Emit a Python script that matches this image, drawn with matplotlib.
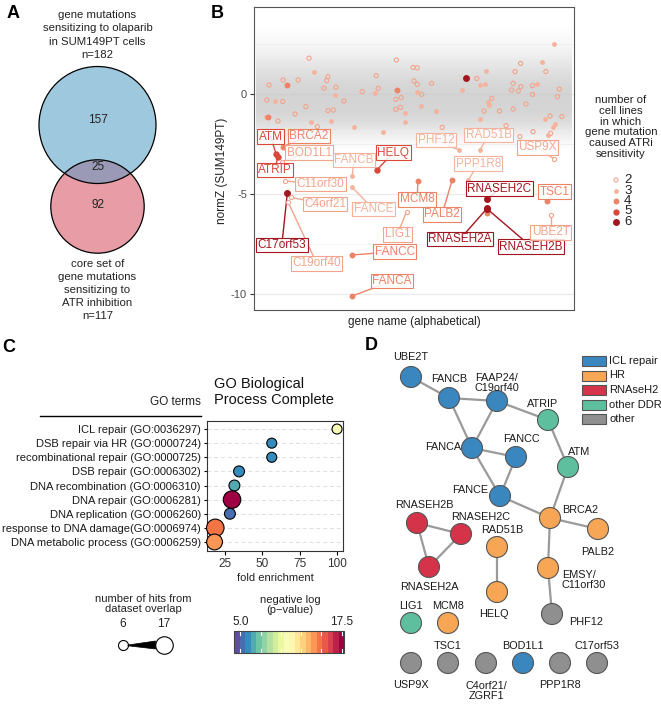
import numpy as np
import matplotlib.pyplot as plt
from matplotlib.patches import Circle, Rectangle, Polygon
from matplotlib.colors import Normalize
from matplotlib.cm import ScalarMappable

plt.rcParams['font.family'] = ['Liberation Sans', 'DejaVu Sans']

# ---------------- data ----------------
# A: venn
venn_parts = [157, 25, 92]
venn_n = [182, 117]

# B: labelled hits (x = position in alphabetical gene list, % of genes)
hit_genes = ['ATM', 'ATRIP', 'BOD1L1', 'BRCA2', 'C11orf30', 'C17orf53', 'C19orf40', 'C4orf21',
             'FANCA', 'FANCB', 'FANCC', 'FANCE', 'HELQ', 'LIG1', 'MCM8', 'PALB2', 'PHF12',
             'PPP1R8', 'RAD51B', 'RNASEH2A', 'RNASEH2B', 'RNASEH2C', 'TSC1', 'UBE2T', 'USP9X']
hit_rank = [6.9, 7.4, 8.65, 8.96, 9.6, 10.4, 10.7, 11.5, 30.7, 30.7, 30.7, 30.7, 38.3, 47.7,
            51.2, 61.9, 64.2, 67.0, 70.6, 72.9, 72.9, 72.9, 91.5, 92.7, 93.8]
hit_normz = [-3.0, -3.13, -3.38, -2.63, -4.35, -4.97, -5.42, -5.17, -10.1, -4.1, -8.05, -4.67,
             -3.82, -5.88, -4.33, -4.3, -2.81, -4.3, -2.8, -5.71, -5.75, -5.27, -5.35, -6.05, -3.25]
hit_lines = [5, 5, 2, 4, 2, 6, 2, 2, 4, 3, 4, 3, 5, 2, 4, 4, 3, 3, 3, 6, 6, 6, 4, 2, 2]

# B: other (unlabelled) hits
other_rank = [17.2, 18.75, 23.1, 22.7, 9.1, 13.8, 10.2, 4.7, 21.9, 25.6, 25.4, 33.8, 4.0, 6.6,
              9.0, 28.1, 16.2, 23.1, 24.8, 12.8, 4.4, 3.75, 7.5, 17.9, 24.0, 19.8, 31.25,
              44.5, 49.7, 51.0, 38.2, 50.0, 51.0, 55.5, 66.25, 64.9, 44.8, 38.8, 37.8, 51.0,
              52.4, 46.0, 44.3, 52.1, 45.8, 44.3, 56.8, 47.2, 47.2, 58.8, 40.4,
              93.75, 83.3, 89.9, 72.5, 81.6, 91.2, 69.6, 81.0, 83.4, 87.0, 88.3, 70.6, 72.2,
              80.5, 82.6, 95.4, 94.8, 87.0, 74.3, 73.2, 73.5, 85.0, 76.7, 71.9, 81.0, 92.5,
              96.2, 90.9, 94.1, 93.5, 70.6, 78.75, 87.2, 83.1, 91.9, 92.7, 72.9]
other_normz = [1.79, 1.12, 0.87, 0.67, 0.70, 0.70, 0.45, 0.45, 0.29, 0.34, -0.05, 0.12, -0.30,
               -0.35, -0.37, -0.35, -0.63, -0.83, -0.80, -1.0, -1.13, -1.17, -1.35, -1.38,
               -1.33, -1.63, -1.67,
               1.7, 1.33, 1.31, 0.92, 0.65, 0.48, 0.53, 0.78, 0.2, 0.2, 0.28, 0.03, 0.12,
               -0.02, -0.18, -0.27, -0.6, -0.67, -0.77, -0.83, -0.97, -1.38, -1.67, -1.92,
               2.49, 1.53, 1.58, 1.15, 1.12, 1.12, 0.78, 0.53, 0.37, 0.42, 0.5, 0.45, 0.5,
               0.2, 0.15, 0.25, -0.13, -0.02, -0.22, -0.38, -0.55, -0.5, -0.85, -0.85, -0.75,
               -1.1, -1.13, -1.27, -1.5, -1.63, -1.27, -1.58, -1.88, -2.13, -2.05, -1.97, -5.93]
other_lines = [2, 3, 2, 2, 2, 2, 4, 2, 2, 2, 3, 2, 2, 3, 2, 2, 2, 2, 2, 2, 4, 3, 2, 3, 3, 2, 3,
               2, 2, 2, 2, 2, 2, 2, 6, 3, 4, 2, 3, 3, 2, 2, 2, 3, 2, 2, 3, 3, 3, 2, 3,
               3, 2, 3, 3, 2, 2, 2, 2, 2, 2, 3, 3, 3, 2, 2, 2, 2, 2, 2, 3, 3, 2, 2, 2, 2, 2,
               2, 3, 3, 3, 3, 2, 2, 2, 3, 2, 4]

# B: density of the grey cloud of all other genes along normZ
cloud_z = [-2.9, -2.5, -2.0, -1.5, -1.0, -0.5, 0.0, 0.5, 1.0, 1.5, 2.0, 2.5, 3.0, 3.4]
cloud_density = [0.0, 0.12, 0.4, 0.75, 0.95, 1.0, 1.0, 0.92, 0.75, 0.55, 0.35, 0.18, 0.06, 0.0]

count_levels = [2, 3, 4, 5, 6]

# C: GO enrichment
go_terms = ['ICL repair (GO:0036297)', 'DSB repair via HR (GO:0000724)',
            'recombinational repair (GO:0000725)', 'DSB repair (GO:0006302)',
            'DNA recombination (GO:0006310)', 'DNA repair (GO:0006281)',
            'DNA replication (GO:0006260)', 'response to DNA damage(GO:0006974)',
            'DNA metabolic process (GO:0006259)']
go_fold = [100, 56.3, 56.3, 34.4, 31.3, 29.7, 28.3, 18.5, 18.0]
go_hits = [6, 6, 6, 7, 7, 17, 7, 17, 14]
go_logp = [10.9, 5.7, 5.7, 5.6, 6.4, 17.5, 5.1, 14.6, 14.3]

# D: network
groups = ['ICL repair', 'HR', 'RNAseH2', 'other DDR', 'other']
net_group = {'UBE2T': 'ICL repair', 'FANCB': 'ICL repair', 'FAAP24/\nC19orf40': 'ICL repair',
             'ATRIP': 'other DDR', 'FANCA': 'ICL repair', 'FANCC': 'ICL repair',
             'ATM': 'other DDR', 'FANCE': 'ICL repair', 'BRCA2': 'HR', 'PALB2': 'HR',
             'RNASEH2B': 'RNAseH2', 'RNASEH2C': 'RNAseH2', 'RNASEH2A': 'RNAseH2',
             'RAD51B': 'HR', 'HELQ': 'HR', 'EMSY/\nC11orf30': 'HR', 'PHF12': 'other',
             'LIG1': 'other DDR', 'MCM8': 'HR', 'USP9X': 'other', 'TSC1': 'other',
             'C4orf21/\nZGRF1': 'other', 'BOD1L1': 'ICL repair', 'PPP1R8': 'other',
             'C17orf53': 'other'}
net_edges = [('UBE2T', 'FANCB'), ('FANCB', 'FAAP24/\nC19orf40'), ('FAAP24/\nC19orf40', 'ATRIP'),
             ('FANCB', 'FANCA'), ('FAAP24/\nC19orf40', 'FANCA'), ('FANCA', 'FANCC'),
             ('FANCA', 'FANCE'), ('FANCC', 'FANCE'), ('ATRIP', 'ATM'), ('ATM', 'BRCA2'),
             ('FANCE', 'BRCA2'), ('BRCA2', 'PALB2'), ('BRCA2', 'EMSY/\nC11orf30'),
             ('EMSY/\nC11orf30', 'PHF12'), ('RNASEH2B', 'RNASEH2C'), ('RNASEH2B', 'RNASEH2A'),
             ('RNASEH2C', 'RNASEH2A'), ('RAD51B', 'HELQ')]

# ---------------- styles / layout ----------------
W, H = 661, 706
count_col = {2: '#f2a48c', 3: '#f5b29c', 4: '#ee8266', 5: '#db4739', 6: '#a3161f'}
count_size = {2: 9, 3: 12, 4: 18, 5: 21, 6: 25}
group_col = {'ICL repair': '#3a86bf', 'HR': '#f6a655', 'RNAseH2': '#d5334a',
             'other DDR': '#5dbf9d', 'other': '#8f8f8f'}

label_xy = {'ATM': (5.2, -2.13), 'ATRIP': (6.6, -3.8), 'BOD1L1': (17.3, -2.93),
            'BRCA2': (17.2, -2.1), 'C11orf30': (20.8, -4.5), 'C17orf53': (8.7, -7.55),
            'C19orf40': (19.6, -8.47), 'C4orf21': (22.2, -5.5), 'FANCA': (43.1, -9.35),
            'FANCB': (31.2, -3.3), 'FANCC': (44.0, -7.88), 'FANCE': (37.3, -5.75),
            'HELQ': (43.5, -2.93), 'LIG1': (44.8, -7.02), 'MCM8': (51.0, -5.27),
            'PALB2': (58.8, -6.02), 'PHF12': (56.9, -2.3), 'PPP1R8': (70.1, -3.48),
            'RAD51B': (73.3, -2.05), 'RNASEH2A': (64.4, -7.25), 'RNASEH2B': (86.6, -7.63),
            'RNASEH2C': (76.6, -4.73), 'TSC1': (94.0, -4.88), 'UBE2T': (92.7, -6.92),
            'USP9X': (88.6, -2.67)}

# node position (px), label position (px), alignment
node_layout = {
    'UBE2T': ((411, 377), (411, 357), 'center'),
    'FANCB': ((449, 398), (449, 379), 'center'),
    'FAAP24/\nC19orf40': ((497, 401), (497, 383), 'center'),
    'ATRIP': ((548, 420), (543, 404), 'center'),
    'FANCA': ((472, 448), (461, 447), 'right'),
    'FANCC': ((516, 457), (521, 439), 'center'),
    'ATM': ((568, 467), (579, 452), 'center'),
    'FANCE': ((500, 496), (488, 490), 'right'),
    'BRCA2': ((550, 518), (562, 510), 'left'),
    'PALB2': ((598, 529), (598, 552), 'center'),
    'RNASEH2B': ((417, 523), (424, 505), 'center'),
    'RNASEH2C': ((461, 534), (481, 517), 'center'),
    'RNASEH2A': ((429, 567), (429, 587), 'center'),
    'RAD51B': ((497, 547), (502, 530), 'center'),
    'HELQ': ((497, 592), (494, 614), 'center'),
    'EMSY/\nC11orf30': ((548, 568), (562, 580), 'left'),
    'PHF12': ((552, 614), (569, 622), 'left'),
    'LIG1': ((411, 623), (411, 606), 'center'),
    'MCM8': ((448, 623), (448, 606), 'center'),
    'USP9X': ((411, 663), (411, 685), 'center'),
    'TSC1': ((448, 663), (448, 646), 'center'),
    'C4orf21/\nZGRF1': ((486, 663), (486, 691), 'center'),
    'BOD1L1': ((523, 663), (523, 646), 'center'),
    'PPP1R8': ((560, 663), (560, 685), 'center'),
    'C17orf53': ((597, 663), (597, 646), 'center'),
}


def box(x0, y0, x1, y1):
    return [x0 / W, 1 - y1 / H, (x1 - x0) / W, (y1 - y0) / H]


fig = plt.figure(figsize=(W / 100, H / 100), dpi=100)
ax0 = fig.add_axes([0, 0, 1, 1], zorder=0)
ax0.set_xlim(0, W)
ax0.set_ylim(H, 0)
ax0.axis('off')

for lab, x, y in [('A', 13, 13), ('B', 217, 13), ('C', 9, 347), ('D', 371, 346)]:
    ax0.text(x, y, lab, fontsize=13, fontweight='bold', ha='center', va='center')

# ---------------- A ----------------
ca = ((97.5, 125), 58.5)
cb = ((97.5, 206.5), 46.7)
ax0.add_patch(Circle(ca[0], ca[1], fc='#9ec8de', ec='none'))
ax0.add_patch(Circle(cb[0], cb[1], fc='#e89ca5', ec='none'))
lens = Circle(cb[0], cb[1], fc='#9a9ab6', ec='none')
ax0.add_patch(lens)
lens.set_clip_path(Circle(ca[0], ca[1], transform=ax0.transData))
for c in (ca, cb):
    ax0.add_patch(Circle(c[0], c[1], fc='none', ec='black', lw=0.9))
for v, y in zip(venn_parts, [120, 167, 205]):
    ax0.text(97.5, y, str(v), fontsize=8.5, ha='center', va='center', color='#222222')
ax0.text(97.5, 35, 'gene mutations\nsensitizing to olaparib\nin SUM149PT cells\nn=%d' % venn_n[0],
         fontsize=8.2, ha='center', va='center', linespacing=1.4, color='#222222')
ax0.text(97.5, 290, 'core set of\ngene mutations\nsensitizing to\nATR inhibition\nn=%d' % venn_n[1],
         fontsize=8.2, ha='center', va='center', linespacing=1.4, color='#222222')

# ---------------- B ----------------
axb = fig.add_axes(box(254, 7, 574, 310), zorder=1)
axb.set_xlim(0, 100)
axb.set_ylim(-10.8, 4.35)
zz = np.linspace(cloud_z[0], cloud_z[-1], 141)
dens = np.interp(zz, cloud_z, cloud_density)
for z0, z1, d in zip(zz[:-1], zz[1:], dens[:-1]):
    if d > 0:
        axb.fill_between([0.5, 99.5], z0, z1, color='#c6c6c6', alpha=float(d) * 0.75,
                         lw=0, zorder=1)
axb.set_yticks([-10, -5, 0])
axb.set_yticklabels(['-10', '-5', '0'])
axb.set_yticks([-7.5, -2.5, 2.5], minor=True)
axb.set_xticks([])
axb.grid(which='major', axis='y', color='#ebebeb', lw=0.9)
axb.grid(which='minor', axis='y', color='#f2f2f2', lw=0.6)
axb.set_axisbelow(True)
axb.tick_params(which='minor', length=0)
axb.tick_params(axis='y', labelsize=8, labelcolor='#4d4d4d', length=3, color='#333333', pad=2)
for sp in axb.spines.values():
    sp.set_color('#555555')
    sp.set_linewidth(0.8)
axb.set_ylabel('normZ (SUM149PT)', fontsize=8.5, color='#222222')
axb.yaxis.set_label_coords(-0.08, 0.46)
axb.set_xlabel('gene name (alphabetical)', fontsize=8.5, color='#222222', labelpad=4)

other_rank_a = np.array(other_rank)
other_normz_a = np.array(other_normz)
other_lines_a = np.array(other_lines)
for k in count_levels:
    m = other_lines_a == k
    if not m.any():
        continue
    if k == 2:
        axb.scatter(other_rank_a[m], other_normz_a[m], s=count_size[k], facecolors='none',
                    edgecolors=count_col[k], linewidths=0.8, zorder=2)
    else:
        axb.scatter(other_rank_a[m], other_normz_a[m], s=count_size[k], c=count_col[k],
                    linewidths=0, zorder=2)

for g, x, y, k in zip(hit_genes, hit_rank, hit_normz, hit_lines):
    lx, ly = label_xy[g]
    col = count_col[k]
    axb.plot([lx, x], [ly, y], color=col, lw=1.0, zorder=3)
    if k == 2:
        axb.scatter([x], [y], s=count_size[k], facecolors='white', edgecolors=col,
                    linewidths=0.8, zorder=4)
    else:
        axb.scatter([x], [y], s=count_size[k], c=col, linewidths=0, zorder=4)
    axb.text(lx, ly, g, fontsize=8.5, color=col, ha='center', va='center', zorder=5,
             bbox=dict(boxstyle='square,pad=0.12', fc=(1, 1, 1, 0.85), ec=col, lw=0.8))

# legend for B
ax0.text(621, 127, 'number of\ncell lines\nin which\ngene mutation\ncaused ATRi\nsensitivity',
         fontsize=8.2, ha='center', va='center', linespacing=1.12, color='#222222')
for i, k in enumerate(count_levels):
    y = 180 + 10.5 * i
    if k == 2:
        ax0.scatter([616], [y], s=count_size[k], facecolors='none', edgecolors=count_col[k],
                    linewidths=0.8)
    else:
        ax0.scatter([616], [y], s=count_size[k], c=count_col[k], linewidths=0)
    ax0.text(624, y, str(k), fontsize=9.5, ha='left', va='center', color='#222222')

# ---------------- C ----------------
axc = fig.add_axes(box(207, 421, 343, 551), zorder=1)
ypos = np.arange(len(go_terms))
cmap = plt.get_cmap('Spectral_r', 20)
norm = Normalize(4.2, 17.8)
dpx = np.sqrt(10 ** 2 + (17.5 ** 2 - 10 ** 2) * (np.array(go_hits) - 6) / 11)
axc.scatter(go_fold, ypos, s=(dpx * 0.72) ** 2, c=go_logp, cmap=cmap, norm=norm,
            edgecolors='black', linewidths=0.8, zorder=3, clip_on=False)
axc.set_xlim(12.95, 104)
axc.set_ylim(8.64, -0.57)
axc.set_yticks(ypos)
axc.set_yticklabels(go_terms, fontsize=8, color='#1a1a1a')
axc.set_xticks([25, 50, 75, 100])
axc.tick_params(axis='x', labelsize=8.5, labelcolor='#333333', length=3, pad=2)
axc.tick_params(axis='y', length=2.5, pad=2)
axc.grid(axis='y', ls=(0, (4, 3)), color='#dedede', lw=0.7)
axc.set_axisbelow(True)
for sp in axc.spines.values():
    sp.set_color('#333333')
    sp.set_linewidth(0.8)
axc.set_xlabel('fold enrichment', fontsize=8, color='#222222', labelpad=2)

ax0.text(201, 402, 'GO terms', fontsize=8.5, ha='right', va='center', color='#222222')
ax0.plot([40, 201], [416, 416], color='black', lw=1.0)
ax0.text(214, 392, 'GO Biological\nProcess Complete', fontsize=10.5, ha='left', va='center',
         linespacing=1.1, color='#111111')

# size legend
ax0.text(143, 604, 'number of hits from\ndataset overlap', fontsize=8, ha='center', va='center',
         linespacing=0.95, color='#222222')
hmin, hmax = min(go_hits + [6]), 17
for h, x in [(hmin, 122.5), (hmax, 164)]:
    d = np.sqrt(10 ** 2 + (17.5 ** 2 - 10 ** 2) * (h - 6) / 11)
    ax0.text(x, 624, str(h), fontsize=8.5, ha='center', va='center', color='#222222')
    ax0.scatter([x], [645], s=(d * 0.72) ** 2, facecolors='white', edgecolors='black',
                linewidths=0.8)
ax0.add_patch(Polygon([(128, 645), (155.5, 641), (155.5, 649), (128, 645.8)], closed=True,
                      fc='black', ec='black', lw=0.5))

# colour bar
ax0.text(290, 605, 'negative log\n(p\u2212value)', fontsize=8, ha='center', va='center',
         linespacing=0.95, color='#222222')
cax = fig.add_axes(box(234, 631, 344, 653), zorder=1)
cbar = fig.colorbar(ScalarMappable(norm=norm, cmap=cmap), cax=cax, orientation='horizontal')
cbar.outline.set_edgecolor('#444444')
cbar.outline.set_linewidth(0.8)
cax.xaxis.set_ticks_position('top')
cax.set_xticks([5, 17.5])
cax.set_xticklabels(['5.0', '17.5'])
cax.tick_params(axis='x', length=0, labelsize=8.5, labelcolor='#222222', pad=2)
for t in [5, 7.5, 10, 12.5, 15, 17.5]:
    cax.plot([t, t], [0, 0.18], color='white', lw=0.8)
    cax.plot([t, t], [0.82, 1], color='white', lw=0.8)

# ---------------- D ----------------
for a, b in net_edges:
    (xa, ya), _, _ = node_layout[a]
    (xb, yb), _, _ = node_layout[b]
    ax0.plot([xa, xb], [ya, yb], color='#9a9a9a', lw=1.6, zorder=1)
for g, grp in net_group.items():
    (x, y), (lx, ly), ha = node_layout[g]
    ax0.add_patch(Circle((x, y), 10.5, fc=group_col[grp], ec='#555555', lw=0.8, zorder=2))
    ax0.text(lx, ly, g, fontsize=7.8, ha=ha, va='center', linespacing=1.0, color='#1a1a1a')

for i, grp in enumerate(groups):
    y = 361 + 14.5 * i
    ax0.add_patch(Rectangle((582, y - 5), 24, 10, fc=group_col[grp], ec='#555555', lw=0.8))
    ax0.text(609, y, grp, fontsize=8, ha='left', va='center', color='#1a1a1a')

fig.savefig('out.png', dpi=100)
